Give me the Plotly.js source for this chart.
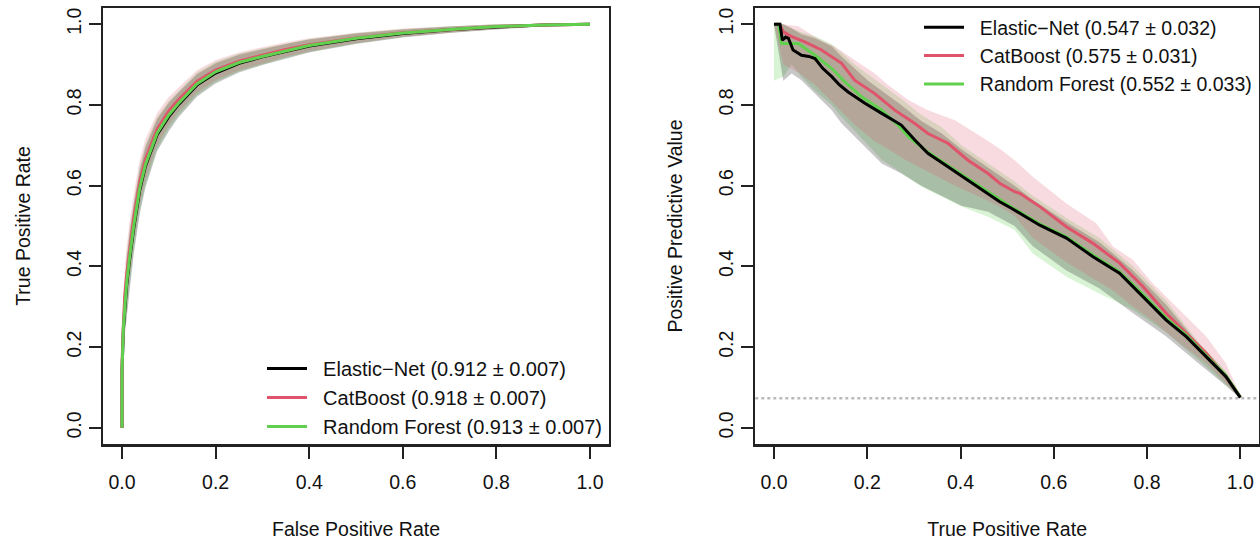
<!DOCTYPE html>
<html>
<head>
<meta charset="utf-8">
<script src="https://cdn.plot.ly/plotly-3.0.1.min.js"></script>
<style>
html,body{margin:0;padding:0;background:#fff;}
#chart{width:1260px;height:540px;}
</style>
</head>
<body>
<div id="chart"></div>
<script>
// ---------- data ----------
const modelNames = ["Elastic\u2212Net", "CatBoost", "Random Forest"];
const rocAuc = ["(0.912 \u00b1 0.007)", "(0.918 \u00b1 0.007)", "(0.913 \u00b1 0.007)"];
const prAuc  = ["(0.547 \u00b1 0.032)", "(0.575 \u00b1 0.031)", "(0.552 \u00b1 0.033)"];
const modelColors = ["#000000", "#DF536B", "#61D04F"];
const bandColors = ["rgba(0,0,0,0.22)", "rgba(223,83,107,0.21)", "rgba(97,208,79,0.24)"];
const tickVals = [0, 0.2, 0.4, 0.6, 0.8, 1.0];
const tickText = ["0.0", "0.2", "0.4", "0.6", "0.8", "1.0"];
const prevalence = 0.0735;

// ROC curves (False Positive Rate -> True Positive Rate)
const rocFpr  = [0, 0, 0.003, 0.006, 0.01, 0.016, 0.025, 0.038, 0.05, 0.075, 0.1, 0.12, 0.16, 0.2, 0.25, 0.3, 0.35, 0.4, 0.5, 0.6, 0.7, 0.8, 0.9, 1.0];
const rocEnTpr = [0, 0.14, 0.245, 0.305, 0.355, 0.415, 0.495, 0.59, 0.648, 0.726, 0.771, 0.8, 0.849, 0.879, 0.903, 0.919, 0.933, 0.946, 0.964, 0.977, 0.986, 0.993, 0.998, 1.0];
const rocEnLo  = [0, 0.08, 0.17, 0.23, 0.28, 0.34, 0.43, 0.53, 0.595, 0.685, 0.735, 0.768, 0.82, 0.853, 0.88, 0.899, 0.915, 0.93, 0.951, 0.967, 0.978, 0.987, 0.995, 1.0];
const rocEnHi  = [0, 0.2, 0.31, 0.37, 0.42, 0.48, 0.555, 0.64, 0.695, 0.765, 0.805, 0.83, 0.876, 0.903, 0.924, 0.938, 0.951, 0.962, 0.977, 0.987, 0.994, 0.999, 1.0, 1.0];
const rocCbTpr = [0, 0.16, 0.26, 0.33, 0.38, 0.44, 0.52, 0.61, 0.665, 0.74, 0.785, 0.812, 0.858, 0.886, 0.908, 0.923, 0.937, 0.949, 0.966, 0.979, 0.987, 0.994, 0.998, 1.0];
const rocCbLo  = [0, 0.1, 0.19, 0.26, 0.31, 0.37, 0.46, 0.555, 0.615, 0.7, 0.75, 0.782, 0.83, 0.861, 0.886, 0.903, 0.919, 0.933, 0.953, 0.969, 0.979, 0.988, 0.995, 1.0];
const rocCbHi  = [0, 0.22, 0.33, 0.4, 0.45, 0.51, 0.58, 0.665, 0.715, 0.78, 0.82, 0.842, 0.886, 0.911, 0.93, 0.943, 0.955, 0.965, 0.979, 0.989, 0.995, 1.0, 1.0, 1.0];
const rocRfTpr = [0, 0.14, 0.25, 0.31, 0.36, 0.42, 0.5, 0.595, 0.652, 0.73, 0.775, 0.803, 0.852, 0.882, 0.905, 0.92, 0.934, 0.947, 0.965, 0.978, 0.987, 0.994, 0.998, 1.0];
const rocRfLo  = [0, 0.08, 0.18, 0.24, 0.29, 0.35, 0.44, 0.54, 0.602, 0.69, 0.74, 0.773, 0.824, 0.857, 0.883, 0.9, 0.916, 0.931, 0.952, 0.968, 0.979, 0.988, 0.995, 1.0];
const rocRfHi  = [0, 0.2, 0.32, 0.38, 0.43, 0.49, 0.56, 0.65, 0.702, 0.77, 0.81, 0.833, 0.88, 0.907, 0.927, 0.94, 0.952, 0.963, 0.978, 0.988, 0.995, 1.0, 1.0, 1.0];

// Precision-recall curves (True Positive Rate -> Positive Predictive Value)
const prEnRecall = [0, 0.013, 0.018, 0.025, 0.031, 0.041, 0.059, 0.075, 0.088, 0.105, 0.124, 0.14, 0.159, 0.195, 0.231, 0.273, 0.302, 0.33, 0.373, 0.416, 0.459, 0.484, 0.509, 0.527, 0.57, 0.627, 0.684, 0.741, 0.791, 0.841, 0.884, 0.927, 0.969, 1.0];
const prEnPrec   = [1.0, 1.0, 0.96, 0.968, 0.965, 0.936, 0.923, 0.92, 0.915, 0.89, 0.87, 0.85, 0.832, 0.804, 0.779, 0.75, 0.713, 0.68, 0.647, 0.614, 0.581, 0.56, 0.544, 0.531, 0.502, 0.47, 0.424, 0.383, 0.325, 0.267, 0.226, 0.176, 0.127, 0.075];
const prCbRecall = [0.005, 0.012, 0.02, 0.038, 0.066, 0.102, 0.145, 0.173, 0.216, 0.259, 0.302, 0.33, 0.373, 0.416, 0.459, 0.484, 0.516, 0.527, 0.57, 0.627, 0.684, 0.741, 0.791, 0.841, 0.884, 0.927, 0.969, 1.0];
const prCbPrec   = [1.0, 1.0, 0.981, 0.969, 0.956, 0.936, 0.903, 0.861, 0.828, 0.787, 0.754, 0.729, 0.705, 0.663, 0.63, 0.606, 0.585, 0.581, 0.548, 0.498, 0.457, 0.408, 0.35, 0.284, 0.234, 0.185, 0.127, 0.077];
const prRfRecall = [0, 0.01, 0.016, 0.052, 0.088, 0.124, 0.152, 0.188, 0.231, 0.266, 0.288, 0.33, 0.373, 0.416, 0.459, 0.509, 0.57, 0.627, 0.684, 0.741, 0.791, 0.841, 0.884, 0.927, 0.969, 1.0];
const prRfPrec   = [1.0, 1.0, 0.952, 0.952, 0.923, 0.89, 0.857, 0.82, 0.787, 0.75, 0.721, 0.683, 0.65, 0.617, 0.585, 0.547, 0.505, 0.473, 0.428, 0.386, 0.33, 0.272, 0.23, 0.18, 0.13, 0.076];

const prEnBandRecall = [0, 0.02, 0.038, 0.059, 0.088, 0.124, 0.145, 0.173, 0.202, 0.231, 0.273, 0.316, 0.359, 0.402, 0.459, 0.516, 0.555, 0.627, 0.698, 0.77, 0.841, 0.912, 0.969, 1.0];
const prEnBandLo = [1.0, 0.86, 0.878, 0.861, 0.828, 0.787, 0.754, 0.721, 0.688, 0.655, 0.63, 0.6, 0.575, 0.55, 0.535, 0.5, 0.45, 0.39, 0.345, 0.284, 0.226, 0.158, 0.104, 0.073];
const prEnBandHi = [1.0, 1.0, 0.99, 0.975, 0.965, 0.945, 0.92, 0.89, 0.86, 0.835, 0.8, 0.76, 0.73, 0.69, 0.645, 0.6, 0.565, 0.51, 0.46, 0.39, 0.305, 0.205, 0.135, 0.078];
const prCbBandRecall = [0, 0.02, 0.052, 0.088, 0.131, 0.173, 0.216, 0.245, 0.288, 0.33, 0.388, 0.445, 0.488, 0.516, 0.555, 0.627, 0.691, 0.727, 0.77, 0.812, 0.869, 0.927, 0.969, 1.0];
const prCbBandLo = [1.0, 0.9, 0.88, 0.85, 0.8, 0.75, 0.71, 0.69, 0.66, 0.635, 0.6, 0.57, 0.545, 0.525, 0.47, 0.41, 0.365, 0.34, 0.3, 0.265, 0.21, 0.16, 0.11, 0.074];
const prCbBandHi = [1.0, 1.0, 0.995, 0.969, 0.944, 0.911, 0.878, 0.849, 0.812, 0.787, 0.762, 0.721, 0.688, 0.663, 0.622, 0.556, 0.507, 0.449, 0.416, 0.358, 0.292, 0.226, 0.16, 0.08];
const prRfBandRecall = [0, 0.02, 0.038, 0.059, 0.088, 0.124, 0.145, 0.173, 0.202, 0.231, 0.273, 0.316, 0.359, 0.402, 0.459, 0.516, 0.555, 0.627, 0.698, 0.77, 0.841, 0.912, 0.969, 1.0];
const prRfBandLo = [0.86, 0.87, 0.9, 0.87, 0.835, 0.8, 0.77, 0.735, 0.7, 0.665, 0.632, 0.597, 0.573, 0.548, 0.523, 0.49, 0.432, 0.374, 0.333, 0.292, 0.236, 0.166, 0.106, 0.074];
const prRfBandHi = [1.0, 1.0, 0.99, 0.98, 0.97, 0.95, 0.93, 0.9, 0.875, 0.85, 0.815, 0.775, 0.745, 0.7, 0.655, 0.61, 0.575, 0.52, 0.47, 0.4, 0.315, 0.21, 0.14, 0.08];

// ---------- build ----------
const FONT = "Liberation Sans, Arial, Helvetica, sans-serif";
const FS = 19.5;
const TXT = "#111";
const PAD = "\u00a0\u00a0";

function band(x, lo, hi, color, xa, ya) {
  return {
    type: "scatter", mode: "lines",
    x: x.concat(x.slice().reverse()),
    y: hi.concat(lo.slice().reverse()),
    fill: "toself", fillcolor: color, line: {width: 0},
    showlegend: false, hoverinfo: "skip", xaxis: xa, yaxis: ya
  };
}
function curve(x, y, i, label, xa, ya, legendId) {
  return {
    type: "scatter", mode: "lines", x: x, y: y,
    name: PAD + modelNames[i] + " " + label,
    line: {color: modelColors[i], width: 3},
    xaxis: xa, yaxis: ya, legend: legendId, legendrank: i + 1
  };
}

const traces = [
  band(rocFpr, rocRfLo, rocRfHi, bandColors[2], "x", "y"),
  band(rocFpr, rocEnLo, rocEnHi, bandColors[0], "x", "y"),
  band(rocFpr, rocCbLo, rocCbHi, bandColors[1], "x", "y"),
  curve(rocFpr, rocEnTpr, 0, rocAuc[0], "x", "y", "legend"),
  curve(rocFpr, rocCbTpr, 1, rocAuc[1], "x", "y", "legend"),
  curve(rocFpr, rocRfTpr, 2, rocAuc[2], "x", "y", "legend"),
  band(prRfBandRecall, prRfBandLo, prRfBandHi, bandColors[2], "x2", "y2"),
  band(prEnBandRecall, prEnBandLo, prEnBandHi, bandColors[0], "x2", "y2"),
  band(prCbBandRecall, prCbBandLo, prCbBandHi, bandColors[1], "x2", "y2"),
  curve(prCbRecall, prCbPrec, 1, prAuc[1], "x2", "y2", "legend2"),
  curve(prRfRecall, prRfPrec, 2, prAuc[2], "x2", "y2", "legend2"),
  curve(prEnRecall, prEnPrec, 0, prAuc[0], "x2", "y2", "legend2")
];

function xAxis(domain, title, anchor) {
  return {
    domain: domain, range: [-0.04, 1.04], anchor: anchor,
    tickvals: tickVals, ticktext: tickText,
    ticks: "outside", ticklen: 12, tickwidth: 2, tickcolor: "#222",
    showline: true, mirror: true, linewidth: 2.5, linecolor: "#222",
    showgrid: false, zeroline: false,
    tickfont: {family: FONT, size: FS, color: TXT},
    ticklabelstandoff: 7,
    title: {text: title, font: {family: FONT, size: FS, color: TXT}, standoff: 31},
    automargin: false
  };
}
function yAxis(domain, title, anchor) {
  return {
    domain: domain, range: [-0.04, 1.04], anchor: anchor,
    tickvals: tickVals, ticktext: tickText, tickangle: -90,
    ticks: "outside", ticklen: 12, tickwidth: 2, tickcolor: "#222",
    showline: true, mirror: true, linewidth: 2.5, linecolor: "#222",
    showgrid: false, zeroline: false,
    tickfont: {family: FONT, size: FS, color: TXT},
    ticklabelstandoff: 0,
    title: {text: title, font: {family: FONT, size: FS, color: TXT}, standoff: 27},
    automargin: false
  };
}

const yDom = [96 / 540, 532 / 540];
const layout = {
  width: 1260, height: 540,
  margin: {l: 0, r: 0, t: 0, b: 0},
  paper_bgcolor: "#fff", plot_bgcolor: "#fff",
  font: {family: FONT, size: FS, color: TXT},
  showlegend: true,
  xaxis: xAxis([103.3 / 1260, 608.7 / 1260], "False Positive Rate", "y"),
  yaxis: yAxis(yDom, "True Positive Rate", "x"),
  xaxis2: xAxis([755.3 / 1260, 1259 / 1260], "True Positive Rate", "y2"),
  yaxis2: yAxis(yDom, "Positive Predictive Value", "x2"),
  legend: {
    x: 262 / 1260, y: (540 - 349) / 540, xanchor: "left", yanchor: "top",
    bgcolor: "rgba(0,0,0,0)", borderwidth: 0, itemwidth: 40,
    font: {family: FONT, size: 20, color: TXT}, tracegroupgap: 0
  },
  legend2: {
    x: 919 / 1260, y: (540 - 8) / 540, xanchor: "left", yanchor: "top",
    bgcolor: "rgba(0,0,0,0)", borderwidth: 0, itemwidth: 40,
    font: {family: FONT, size: FS, color: TXT}, tracegroupgap: 0
  },
  shapes: [{
    type: "line", xref: "x2 domain", yref: "y2",
    x0: 0, x1: 1, y0: prevalence, y1: prevalence,
    line: {color: "#BBBBBB", width: 2.5, dash: "dot"}, layer: "below"
  }]
};

Plotly.newPlot("chart", traces, layout, {staticPlot: true, displayModeBar: false});
</script>
</body>
</html>
